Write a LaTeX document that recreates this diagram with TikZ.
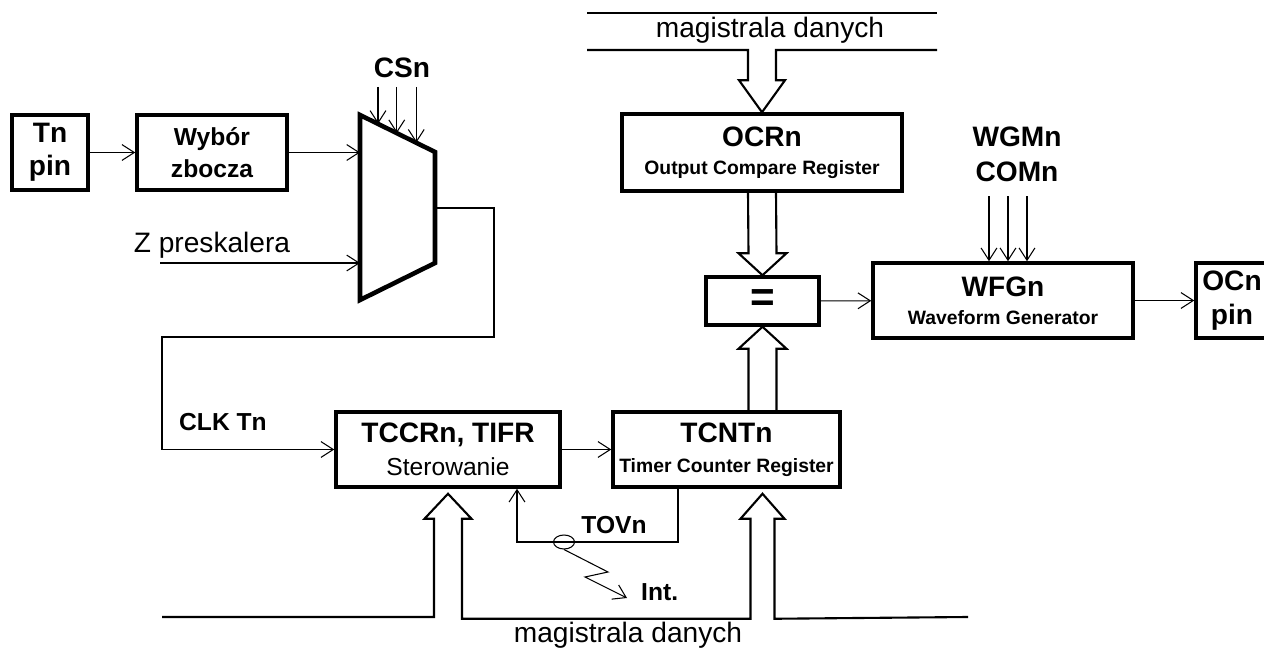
\documentclass[tikz,border=0pt]{standalone}
\usepackage{fontspec}
\setmainfont{Liberation Sans}
\usetikzlibrary{
    arrows.meta,
    calc,
    positioning,
    shapes.geometric
}
\tikzset{
    line join=miter,
    block/.style={
        draw,
        line width=2pt,
        align=center,
        inner sep=1pt,
        minimum height=1.5cm,
        font=\bfseries\fontsize{16}{19}\selectfont
    },
    sig/.style={
        -{Straight Barb[length=7pt,width=9pt]},
        line width=0.6pt
    },
    bus/.style={
        line width=1.2pt
    },
    mux/.style={
        line width=2.6pt
    },
    lbl/.style={
        font=\fontsize{16}{19}\selectfont
    },
    blbl/.style={
        font=\bfseries\fontsize{14}{17}\selectfont
    }
}
\newcommand{\subtext}[1]{{\fontsize{11}{13}\selectfont #1}}

\begin{document}
\begin{tikzpicture}

\clip (0,0) rectangle (25.28,-13.02);

% Blocks
\node[block, minimum width=1.52cm] (tnpin) at (1.0,-3.05) {Tn\\pin};
\node[block, minimum width=3.0cm, font=\bfseries\fontsize{14}{18}\selectfont] (wybor) at (4.24,-3.05) {Wybór\\zbocza};
\node[block, minimum width=4.48cm] (tccr) at (8.96,-8.99) {TCCRn, TIFR\\{\mdseries\fontsize{14}{17}\selectfont Sterowanie}};
\node[block, minimum width=4.54cm] (tcnt) at (14.53,-8.99) {TCNTn\\[-2pt]\subtext{Timer Counter Register}};
\node[block, minimum width=5.6cm, minimum height=1.54cm] (ocr) at (15.24,-3.05) {OCRn\\[-3pt]\subtext{Output Compare Register}};
\node[block, minimum width=2.26cm, minimum height=0.96cm, font=\bfseries\fontsize{24}{24}\selectfont] (eq) at (15.25,-6.02) {=};
\node[block, minimum width=5.2cm] (wfg) at (20.06,-6.01) {WFGn\\[-3pt]\subtext{Waveform Generator}};
\node[block, minimum width=1.44cm] (ocpin) at (24.64,-6.01) {OCn\\pin};

% Clock select multiplexer
\coordinate (mtl) at (7.2,-2.3);
\coordinate (mtr) at (8.7,-3.04);
\coordinate (mbr) at (8.7,-5.26);
\coordinate (mbl) at (7.2,-6.0);
\coordinate (mout) at (8.7,-4.16);
\draw[mux] (mtl) -- (mtr) -- (mbr) -- (mbl) -- cycle;

\draw[sig] (tnpin) -- (wybor);
\draw[sig] (wybor.east) -- (wybor.east -| mtl);

\node[lbl] (zpre) at (4.24,-4.9) {Z preskalera};
\coordinate (zin) at (3.2,-5.26);
\draw[sig] (zin) -- (zin -| mtl);

\node[lbl, font=\bfseries\fontsize{16}{19}\selectfont] (csn) at (8.04,-1.36) {CSn};
\foreach \f in {0.24,0.49,0.75}{
    \coordinate (cs) at ($(mtl)!\f!(mtr)$);
    \draw[sig] (cs |- 0,-1.74) -- (cs);
}

% Clock to control
\node[blbl, anchor=west] (clk) at (3.46,-8.44) {CLK Tn};
\draw[sig] (mout) -| (9.88,-6.74) -| (3.24,-8.99) -- (tccr.west);
\draw[sig] (tccr) -- (tcnt);

% Overflow flag
\coordinate (tovc) at (10.34,-10.84);
\node[draw, ellipse, line width=0.6pt, minimum width=0.42cm, minimum height=0.28cm, inner sep=0pt] (tovflag) at (11.28,-10.84) {};
\draw[sig] ([xshift=-0.97cm]tcnt.south) |- (tovc) -- (tovc |- tccr.south);
\node[blbl] (tovn) at (12.28,-10.5) {TOVn};
\node[blbl, anchor=west] (int) at (12.7,-11.84) {Int.};
\draw[sig] (tovflag.south) -- (12.16,-11.44) -- (11.7,-11.54) -- ([shift={(-0.16,-0.12)}]int.west);

% Compare and waveform
\draw[sig] (eq) -- (wfg);
\draw[sig] (wfg) -- (ocpin);
\node[lbl, font=\bfseries\fontsize{16}{19.8}\selectfont, align=center] (wgm) at (20.34,-3.09) {WGMn\\COMn};
\foreach \dx in {-0.28,0.1,0.48}
    \draw[sig] ($(wfg.north)+(\dx,1.3)$) -- ($(wfg.north)+(\dx,0)$);

% Data bus (top)
\node[lbl] (bustop) at (15.4,-0.6) {magistrala danych};
\coordinate (tipc) at (ocr.north);
\draw[bus] (11.74,-0.26) -- (18.74,-0.26);
\draw[bus] (11.74,-1.0) -| ($(tipc)+(-0.28,0.64)$) -- ++(-0.18,0) -- (tipc)
    -- ++(0.46,0.64) -- ++(-0.18,0) |- (18.74,-1.0);

% Wide arrows into comparator
\draw[bus] ($(ocr.south)+(-0.28,0)$) -- ($(eq.north)+(-0.28,0.44)$) -- ++(-0.2,0) -- (eq.north)
    -- ++(0.48,0.44) -- ++(-0.2,0) -- ($(ocr.south)+(0.28,0)$);
\draw[bus] ($(eq.south |- tcnt.north)+(-0.28,0)$) -- ($(eq.south)+(-0.28,-0.44)$) -- ++(-0.2,0) -- (eq.south)
    -- ++(0.48,-0.44) -- ++(-0.2,0) -- ($(eq.south |- tcnt.north)+(0.28,0)$);

% Data bus (bottom)
\coordinate (tipa) at ([yshift=-0.1cm]tccr.south);
\coordinate (tipb) at ([yshift=-0.1cm]eq.south |- tcnt.south);
\draw[bus] (3.24,-12.34) -| ($(tipa)+(-0.28,-0.5)$) -- ++(-0.19,0) -- (tipa)
    -- ++(0.47,-0.5) -- ++(-0.19,0) |- ($(tipb)+(-0.24,-2.5)$) -- ++(0,2) -- ++(-0.2,0) -- (tipb)
    -- ++(0.44,-0.5) -- ++(-0.2,0) -- ++(0,-2) -- (19.36,-12.34);
\node[lbl] (busbot) at (12.56,-12.7) {magistrala danych};

\end{tikzpicture}
\end{document}
